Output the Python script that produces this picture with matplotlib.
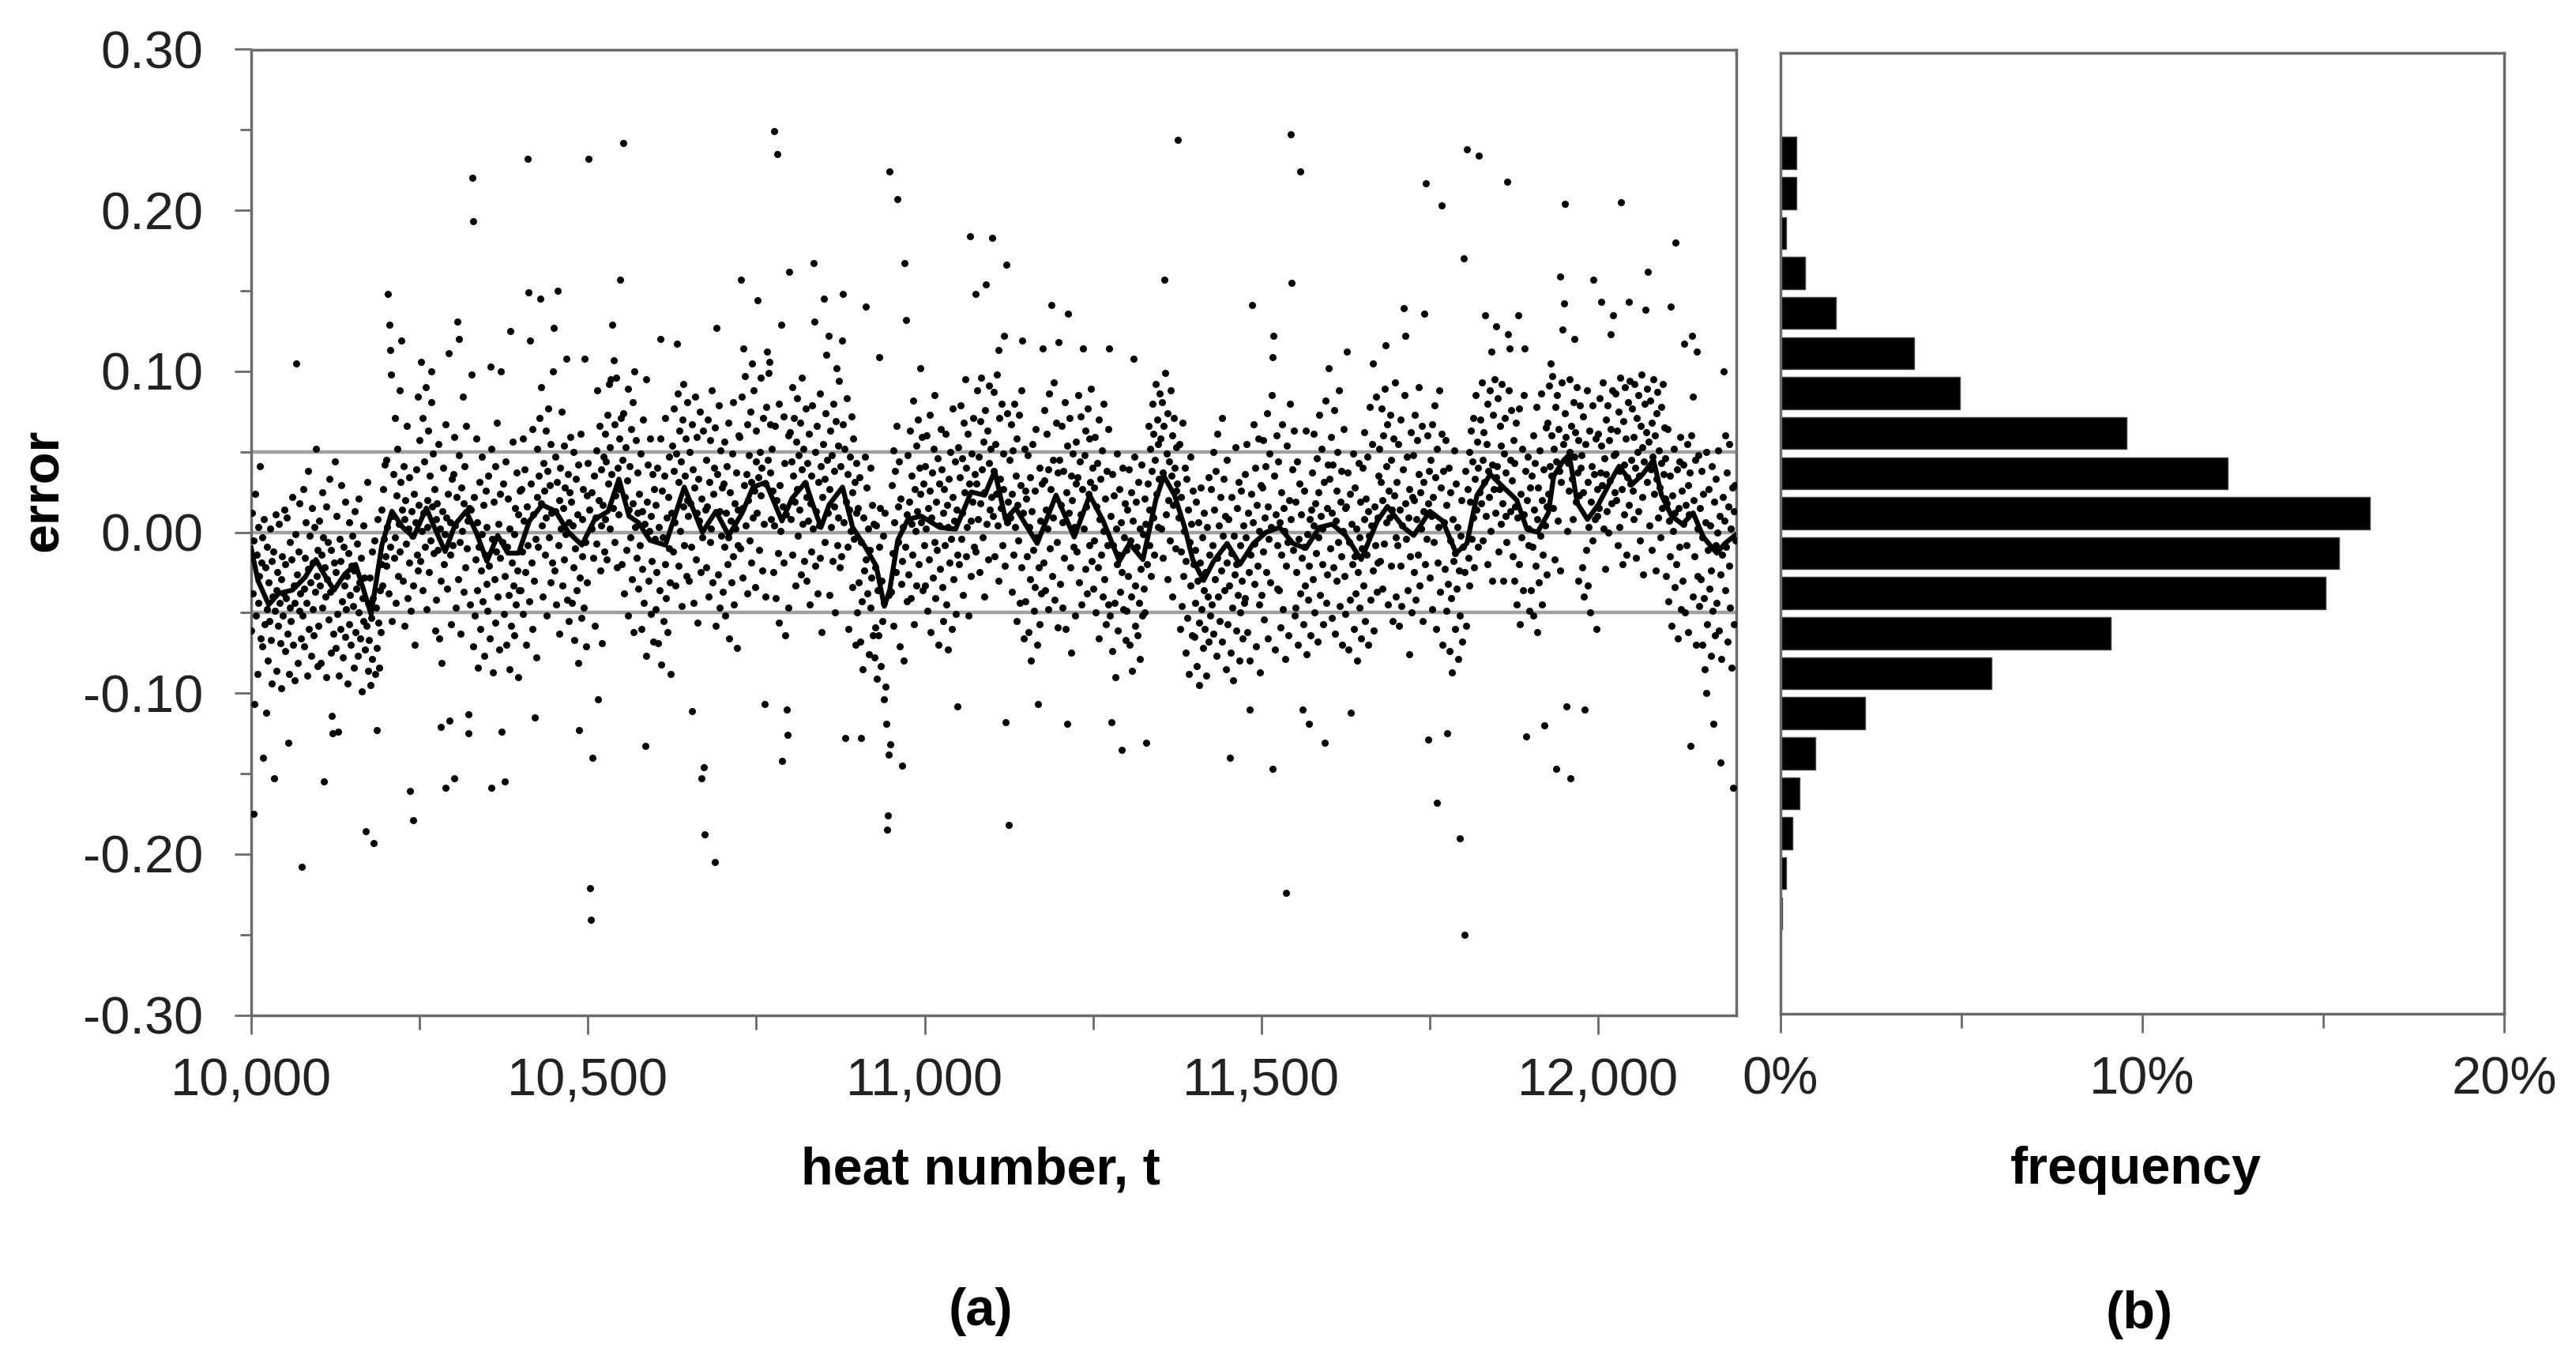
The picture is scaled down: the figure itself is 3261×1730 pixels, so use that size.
import numpy as np
import matplotlib.pyplot as plt
from matplotlib.ticker import MultipleLocator, FuncFormatter, FixedLocator

plt.rcParams['font.family'] = ['Liberation Sans', 'DejaVu Sans']
plt.rcParams['axes.unicode_minus'] = False

# error per heat, in thousandths, read block by block from the scatter (heat 10000 onwards)
err_10000 = [
    -61, 12, -38, -5, -79, -30, 24, -52, -14, -88, 3, -44, -27, 41, -66, -19, -3, -71, -35, 8, -57, -22, 30, -48, -9,
    -80, -31, -55, 2, -67, -18, -94, -40, -12, -73, -49, 11, -36, -86, -25, -58, 5, -44, -69, -29, -97, -15, -52, -38, 14,
    -20, -74, -41, 9, -63, -30, -88, -6, -47, -55, -17, 22, -70, -33, -92, -44, -1, -59, -26, -81, -12, -49, 18, -38, -66,
    -8, -52, 27, -35, -71, -16, 6, -44, -89, -23, 38, -60, -2, -31, -77, 15, -48, -19, -64, 3, -37, 52, -27, -83, -11,
    -58, 7, -33, -81, -14, 25, -47, -3, -69, -22, -40, 16, -90, -29, -6, -54, 33, -37, -75, -11, -45, 2, -63, -19, 44,
    -72, -25, 10, -51, -36, -89, -4, -60, -18, 29, -43, -78, -9, -33, -65, 19, -48, -27, -94, -13, -57, 6, -39, -70, -21,
    -2, -46, -84, -24, 13, -62, -35, -7, -77, -50, 21, -31, -66, -16, -99, -41, 4, -55, -28, -73, -10, -58, 31, -44, -86,
    -67, -28, -95, -53, -12, -79, -41, -60, -5, -88, -47, -31, -72, 8, -56, -84, -36, -62, -20, 14, -33, 27, -4, 42, -15,
    45, -21, 3, 62, -38, 17, -9, 79, 28, -55, 10, 36, -16, 71, -3, -44, 23, 52, -27, 5, 88, -12, 31, -63, 14,
    -30, 41, 8, -58, 20, -7, 66, -41, 2, 34, -19, 77, -49, 13, -2, 50, -33, 24, -70, 6, 39, -14, 84, -24, 17,
    57, -18, 29, 1, 71, -36, 12, 44, -9, 90, -48, 20, 3, 63, -25, 35, -5, 81, -40, 16, 49, -13, 27, -61, 8,
    -42, 18, -11, 55, -66, 2, 29, -30, -81, 13, 40, -20, -1, 67, -52, 9, -35, 24, -74, 47, -14, 6, -57, 33, -8,
    36, -15, 59, 4, -47, 22, 75, -29, 11, 48, -6, -63, 28, 1, 84, -37, 18, 41, -22, 66, -10, 7, -54, 31, 15,
    -45, 14, -28, 39, -71, -3, 22, -52, -17, 58, -36, 6, -84, -9, 31, -60, -24, 47, -1, -43, 17, -77, -14, 26, -32,
    3, -49, 35, -21, -66, 10, -38, 52, -4, -87, 19, -29, 41, -56, -12, 68, -40, 5, -73, 24, -16, 45, -61, -6, 30,
    -51, 8, -27, 44, -70, -9, 21, -39, -85, 2, 33, -58, -19, 56, -33, -1, -64, 15, -45, 37, -24, -90, 11, -36, 26,
    -36, 27, -12, 58, -51, 7, 39, -25, -70, 16, 46, -8, 81, -43, 3, 30, -19, 64, -60, 11, -30, 49, -4, -78, 22,
    52, -9, 35, 71, -27, 18, 90, 4, -40, 43, 26, -14, 63, 9, -52, 38, 77, -3, 29, -31, 55, 12, -19, 84, 21,
    -24, 47, 13, -45, 31, 66, -8, 20, -63, 40, 2, 75, -33, 15, 54, -17, 28, -1, 87, -42, 36, 6, -55, 25, 59,
    19, -44, 4, -22, 50, -67, -10, 33, -36, 11, -81, 42, -2, -28, 61, -53, 8, -15, 27, -47, 70, -6, -71, 23, -31,
]
err_10500 = [
    43, -29, 14, 60, -47, 25, 2, 78, -16, 35, -58, 9, 51, -7, 88, -34, 20, 66, -24, 4, 39, -69, 17, 47, -12,
    61, 8, 44, -17, 73, 30, 92, 2, 53, -30, 36, 79, 15, 48, -6, 67, 23, 96, -22, 40, 11, 58, 27, -41, 71,
    -20, 45, 6, 74, -38, 22, 53, -11, 32, 89, -52, 14, 41, -3, 64, -29, 18, 81, -62, 28, 3, 57, -16, 37, 12,
    -35, 24, -8, 49, -60, 13, -23, 70, -44, 5, 33, -15, -77, 19, 42, -30, 1, 58, -51, 10, -18, 36, -68, 27, -4,
    -48, 17, -25, 40, -69, 3, -36, 58, -14, -82, 26, -3, -55, 35, -20, 71, -41, 9, -62, 22, -10, 47, -31, -88, 12,
    54, -12, 38, 77, 6, -33, 49, 24, 86, -21, 31, 63, 1, 44, -46, 70, 16, 92, -8, 35, 58, -27, 20, 81, 10,
    -30, 50, 18, -9, 67, 3, 39, -44, 28, 84, -17, 12, 59, -56, 33, 7, 75, -25, 46, 21, -3, 63, -38, 29, 14,
    45, -22, 16, 70, -40, 31, -6, 57, 2, 88, -31, 24, 40, -14, 65, -58, 9, 36, -26, 79, 13, -47, 51, -2, 28,
    -37, 30, -9, 56, -52, 12, 41, -20, 68, -3, -66, 25, 7, -31, 49, -15, 81, -45, 18, 2, 37, -72, 14, -8, 60,
    59, -10, 42, 84, 15, -28, 51, 29, 97, 4, 36, -38, 67, 20, 48, -5, 75, 31, -19, 56, 9, 88, 26, -34, 44,
    63, 12, 85, 34, -11, 50, 23, 96, 40, -24, 71, 5, 58, 30, -40, 78, 18, 45, 99, -3, 37, 67, 8, 52, 26,
    -25, 46, 4, 66, -41, 20, 38, -13, 80, -56, 29, 1, 55, -30, 16, 72, -19, 43, -64, 11, 34, -8, 60, -47, 24,
    62, 8, 44, 90, -14, 35, 71, 19, -33, 56, 27, 83, -2, 48, 14, 68, -26, 39, 96, 5, 52, -18, 30, 77, 22,
    -30, 43, 7, 61, -45, 18, 35, -12, 79, 2, -57, 27, 50, -21, 13, 66, -38, 31, 4, 86, -16, 41, -62, 22, 55,
    58, -6, 33, 74, -27, 45, 12, 89, -39, 27, 63, 3, 48, -18, 80, 16, 38, -50, 69, 25, -8, 54, 9, 94, -22,
    41, -15, 28, 67, -42, 6, 52, -28, 19, 83, -9, 36, -60, 14, 47, 1, 72, -34, 25, 58, -4, 31, -70, 43, 12,
    -50, 15, -31, 34, -68, -6, 22, -43, -85, 9, -24, 47, -59, -17, 28, -38, 2, -76, -11, 40, -47, -28, 17, -64, 5,
    -78, -22, -59, 4, -91, -36, -64, -9, -48, 15, -83, -30, -55, -2, -71, -44, 12, -96, -26, -60, -15, -39, 8, -67, -34,
    -37, 29, -13, 51, -58, 6, 38, -25, 66, -47, 16, -6, 44, -71, 21, -32, 59, -18, 3, -80, 33, -9, 72, -43, 11,
    48, -26, 19, 63, -41, 5, 35, -14, 82, -57, 27, 1, 54, -33, 13, 70, -20, 40, -68, 24, 6, 59, -36, 30, -8,
]
err_11000 = [
    -33, 41, 2, 60, -49, 15, -17, 73, 26, -62, 9, 37, -28, 52, -6, 85, -41, 19, -11, 46, -70, 30, 4, -23, 64,
    39, -34, 12, -55, 27, -8, 61, -45, 17, 3, -73, 33, -19, 50, -4, -60, 22, 77, -29, 7, 44, -51, 14, -14, 57,
    53, -20, 34, 79, -4, 46, 12, -39, 68, 25, 95, -15, 40, 3, 61, -52, 30, 85, 7, -27, 49, 19, 71, -9, 36,
    -12, 60, 30, 88, 8, 47, -25, 69, 18, 96, 39, -3, 56, 25, -40, 76, 34, 5, 63, -17, 43, 91, 14, 52, 22,
    63, 10, 87, 38, -15, 55, 24, 98, 4, 46, -30, 71, 33, 15, 80, -8, 49, 27, 92, -21, 60, 36, 6, 74, 19,
    -28, 45, 9, 67, -37, 24, 51, -14, 80, 3, 35, -55, 58, 17, -5, 73, -44, 29, 88, -22, 41, 12, -66, 52, 26,
    -43, 21, -15, 48, -62, 3, 34, -29, -80, 13, 55, -11, -49, 26, -34, 64, -3, -70, 17, -22, 40, -57, 7, -38, 30,
    50, -19, 32, 76, -36, 14, 61, 2, -48, 39, 86, -10, 27, 57, -27, 45, 9, 93, -42, 21, 68, -6, 37, -59, 18,
    45, -32, 17, 66, -47, 6, 38, -16, 81, -60, 25, -2, 54, -36, 12, 71, -22, 35, -75, 20, 49, -9, 3, -52, 30,
    56, -12, 34, 85, -31, 44, 11, 72, -45, 27, 95, 2, 48, -23, 63, 16, -38, 77, 24, -8, 58, 31, 89, -18, 40,
    -35, 28, -5, 59, -50, 16, 43, -22, 70, -66, 8, 33, -14, 51, -40, 1, 80, -29, 21, -57, 38, -8, 64, -45, 12,
    -52, 10, -30, 36, -74, -8, 23, -44, -90, 2, -20, 49, -61, -14, 27, -37, 6, -82, -25, 40, -48, -3, 18, -67, -11,
    -49, 14, -27, 39, -70, -5, 25, -40, -86, 7, -18, 47, -58, -33, 19, -9, -64, 31, -44, 2, -79, -23, 42, -52, -1,
    -35, 21, -50, 5, 43, -20, 30, 66, -8, 14, 52, -27, 38, 80, 9, 61, -14, 45, 92, 24, 70, 3, 55, 33, 86,
    58, 2, 81, 37, -16, 66, 28, 99, 11, 49, -29, 74, 20, 44, -5, 88, 35, 60, -40, 17, 71, 40, -10, 53, 26,
    30, -38, 9, 55, -60, -12, 22, -46, 68, -27, 1, 40, -75, -18, 33, -53, 14, -88, -6, 47, -33, 5, -64, 26, -20,
    -65, -11, -44, 19, -83, -30, 6, -56, -95, -19, 28, -48, -3, -72, -36, 12, -60, -25, -89, 3, -40, 34, -68, -14, -52,
    27, -45, -8, 50, -63, 14, -29, 38, -77, -16, 61, -40, 4, -55, 22, -24, 71, -68, -2, 33, -36, 10, -85, 45, -19,
    -57, 8, -33, 40, -75, -13, 22, -47, -92, -2, -26, 53, -61, -20, 15, -39, 31, -80, -8, -50, 26, -30, -66, 4, -44,
    36, -41, -3, 55, -62, 12, -25, 44, -80, -14, 24, -50, 6, 67, -32, -7, 40, -71, 17, -21, 58, -45, 1, -87, 29,
]
err_11500 = [
    -39, 28, -12, 57, -54, 9, 41, -25, 74, -66, 16, -4, 49, -31, 3, 85, -45, 22, -18, 35, -73, 11, 60, -8, -35,
    44, -36, 6, -59, 25, -14, 67, -48, 15, 1, -79, 34, -21, 54, -6, -64, 20, 80, -28, 8, -43, 39, -11, 63, -52,
    -47, 19, -25, 44, -70, -4, 30, -38, -88, 11, -16, 52, -57, -9, 26, -33, 63, -76, -1, -42, 37, -21, 8, -64, 14,
    37, -29, 4, 61, -50, 18, -13, 46, -68, 25, -3, 73, -39, 10, 52, -20, 2, -57, 31, -9, 82, -44, 15, -26, 42,
    -36, 33, -10, 59, -53, 12, 42, -22, 76, -63, 7, 26, -30, 50, -6, 88, -46, 19, -15, 38, -70, 1, 64, -27, 15,
    -51, 16, -30, 37, -73, -6, 24, -42, -90, 5, -20, 49, -60, -15, 28, -38, 2, -80, -25, 43, -47, -3, 19, -66, -10,
    40, -33, 8, 62, -55, 21, -14, 47, -70, 13, -2, 78, -42, 4, 55, -24, 30, -61, 16, -8, 84, -37, 9, -19, 35,
    52, -18, 31, 77, -35, 20, 60, -7, 89, -28, 41, 6, 67, -45, 26, 9, 73, -21, 45, 14, -55, 58, 23, 93, -3,
    -40, 31, -8, 55, -58, 14, -21, 70, -46, 4, 39, -30, 85, -65, 18, -4, 47, -36, 9, -76, 27, -15, 62, -50, 22,
    48, -25, 20, 73, -42, 8, 57, -14, 36, 90, -33, 25, 2, 66, -55, 31, 13, 81, -20, 43, -4, 60, -47, 18, 38,
    -28, 45, 10, 67, -48, 22, -6, 79, 34, -60, 15, 52, -19, 3, 88, -37, 28, -10, 61, -70, 38, 6, -23, 57, 17,
    -49, 14, -32, 40, -74, -5, 25, -41, -87, 8, -18, 51, -60, -13, 30, -35, 3, -79, -24, 44, -52, -2, 20, -68, -9,
    -40, 12, -25, 38, -58, 2, 27, -16, 50, -33, 19, 63, -4, 44, 9, 71, -22, 33, 85, 14, 56, -9, 40, 78, 25,
    70, 18, 93, 45, -5, 62, 31, 99, 10, 55, -20, 80, 38, 22, 88, 1, 60, 42, -30, 73, 27, 95, 12, 50, 34,
    41, 83, -12, 27, 66, 5, 54, 92, 18, -30, 49, 71, 10, 37, -6, 60, 24, 88, -22, 45, 13, 76, 32, -15, 57,
    43, -30, 16, 68, -45, 9, 34, -20, 77, -57, 24, -3, 52, -36, 11, 85, -14, 38, -67, 20, 47, -8, 2, -49, 28,
    -36, 35, -9, 60, -52, 14, 43, -21, 78, -62, 8, 28, -31, 51, -2, 86, -45, 20, -14, 39, -70, 4, 65, -26, 16,
    68, 24, 91, 41, -6, 60, 35, 97, 15, 52, -17, 78, 44, 20, 85, 7, 64, 38, -24, 70, 31, 93, 10, 55, 29,
    74, 12, 59, 88, 1, 43, 26, 95, 50, -21, 66, 33, 8, 81, 47, -9, 62, 19, 90, 37, -30, 57, 23, 79, 40,
    48, -22, 25, 72, -40, 14, 55, -11, 88, -33, 31, 3, 63, -50, 19, 41, -5, 79, -27, 36, 8, 58, -60, 27, 10,
]
err_12000 = [
    61, 15, 83, 37, -12, 54, 29, 93, 2, 46, -23, 70, 36, 13, 79, 0, 57, 32, -31, 64, 18, 88, 6, 48, 25,
    49, 86, 20, 63, -8, 75, 38, 3, 96, 55, 27, -20, 69, 42, 11, 90, 58, -14, 34, 81, 17, 60, 94, 30, 45,
    77, 26, 8, 59, 92, 40, -16, 71, 50, 13, 85, 35, -5, 66, 98, 22, 53, -26, 44, 80, 6, 62, 31, 89, 19,
    56, 4, 82, 39, 68, -11, 47, 95, 24, 60, -24, 74, 33, 87, 9, 51, 28, -3, 78, 43, 15, 92, 36, 65, 21,
    46, -27, 18, 64, -43, 7, 35, -15, 80, -58, 23, 1, 52, -34, 12, 71, -20, 39, -66, 15, 44, -9, 59, -48, 26,
    -30, 42, 5, 68, -50, 17, -8, 55, 29, -62, 11, 37, -22, 60, -3, 84, -40, 20, -15, 45, -70, 32, 2, -27, 48,
    -46, 15, -29, 38, -70, -3, 24, -41, -85, 6, -19, 50, -57, -11, 27, -35, 4, -77, -24, 41, -49, -1, 19, -64, -8,
    33, -44, 0, 51, -61, 10, -26, 42, -79, -14, 22, -52, 7, 60, -36, -9, 37, -68, 16, -21, 55, -47, 2, -84, 28,
    -31, 13, -57, 29, -5,
]

# isolated large errors (heat, thousandths)
hi_heat = [10067, 10203, 10205, 10207, 10208, 10223, 10252, 10268, 10293, 10306, 10308, 10327, 10328, 10330,
           10355, 10371, 10385, 10410, 10412, 10414, 10429, 10448, 10449, 10455, 10468, 10495, 10501, 10534,
           10536, 10538, 10548, 10552, 10569, 10586, 10608, 10632, 10691, 10727, 10731, 10744, 10752, 10766,
           10769, 10776, 10781, 10787, 10799, 10835, 10836, 10850, 10854, 10857, 10869, 10877, 10879, 10912,
           10933, 10948, 10959, 10970, 10972, 10993, 11067, 11076, 11091, 11100, 11109, 11118, 11121, 11145,
           11175, 11188, 11199, 11213, 11235, 11274, 11310, 11356, 11376, 11486, 11516, 11518, 11543, 11545,
           11558, 11600, 11627, 11666, 11684, 11711, 11713, 11742, 11744, 11767, 11800, 11805, 11823, 11832,
           11841, 11848, 11865, 11866, 11868, 11881, 11891, 11929, 11944, 11947, 11949, 11951, 11965, 11993,
           12004, 12018, 12022, 12034, 12046, 12070, 12074, 12108, 12115, 12128, 12139, 12146, 12186]
hi_err = [105, 148, 129, 113, 98, 119, 106, 100, 111, 131, 120, 98, 220, 193,
          103, 100, 125, 232, 149, 119, 145, 100, 127, 150, 108, 108, 232, 95,
          129, 107, 157, 242, 100, 95, 120, 117, 127, 157, 114, 105, 144, 112,
          106, 249, 235, 129, 162, 167, 131, 145, 110, 122, 102, 119, 148, 140,
          109, 224, 207, 167, 132, 102, 184, 148, 154, 183, 113, 122, 166, 119,
          114, 141, 118, 136, 114, 114, 108, 157, 244, 141, 109, 122, 247, 155,
          224, 102, 112, 105, 116, 139, 122, 136, 217, 203, 170, 238, 234, 135,
          112, 128, 218, 123, 114, 135, 114, 105, 159, 126, 142, 204, 120, 157,
          143, 123, 135, 205, 143, 138, 162, 140, 180, 117, 122, 112, 100]
lo_heat = [10004, 10005, 10018, 10022, 10034, 10055, 10075, 10108, 10120, 10121, 10129, 10170, 10182, 10186,
           10236, 10240, 10281, 10289, 10294, 10301, 10322, 10323, 10356, 10372, 10376, 10421, 10487, 10503,
           10504, 10507, 10515, 10585, 10655, 10668, 10672, 10673, 10688, 10762, 10788, 10795, 10796, 10882,
           10906, 10939, 10943, 10944, 10945, 10947, 10949, 10966, 11049, 11120, 11125, 11168, 11211, 11277,
           11292, 11329, 11453, 11482, 11517, 11536, 11561, 11570, 11594, 11633, 11747, 11760, 11776, 11794,
           11801, 11893, 11920, 11938, 11953, 11959, 11980, 12137, 12160, 12171, 12182, 12200]
lo_err = [-175, -107, -140, -112, -153, -131, -208, -155, -114, -125, -124, -186, -193, -123,
          -161, -179, -121, -159, -117, -153, -113, -125, -159, -124, -155, -115, -123, -221,
          -241, -140, -104, -133, -111, -153, -146, -188, -205, -107, -142, -110, -126, -128,
          -128, -104, -119, -185, -176, -138, -132, -145, -108, -118, -182, -107, -119, -118,
          -135, -131, -140, -110, -147, -224, -110, -119, -131, -112, -129, -168, -125, -190,
          -250, -127, -120, -147, -108, -153, -110, -133, -100, -119, -143, -159]

# moving average line
ma_heat = [10000, 10010, 10026, 10041, 10061, 10080, 10096, 10108, 10123, 10139, 10155, 10170, 10178, 10194,
           10209, 10225, 10241, 10260, 10272, 10288, 10303, 10319, 10334, 10350, 10366, 10381, 10397, 10413,
           10432, 10452, 10471, 10491, 10510, 10530, 10546, 10561, 10575, 10592, 10615, 10643, 10670, 10690,
           10709, 10729, 10745, 10764, 10788, 10803, 10823, 10834, 10846, 10858, 10878, 10893, 10913, 10928,
           10940, 10948, 10960, 10975, 10995, 11022, 11046, 11069, 11089, 11104, 11120, 11135, 11167, 11195,
           11222, 11245, 11265, 11289, 11304, 11324, 11343, 11355, 11371, 11386, 11398, 11414, 11429, 11449,
           11468, 11488, 11507, 11527, 11547, 11566, 11586, 11605, 11625, 11648, 11672, 11687, 11711, 11726,
           11750, 11769, 11789, 11805, 11820, 11840, 11859, 11879, 11894, 11910, 11926, 11934, 11949, 11957,
           11969, 11984, 12000, 12020, 12031, 12051, 12066, 12082, 12094, 12109, 12125, 12141, 12156, 12176,
           12188, 12203]
ma_err = [-0.010, -0.030, -0.045, -0.038, -0.036, -0.028, -0.017, -0.026, -0.036, -0.026, -0.020, -0.040, -0.051, -0.008,
          0.013, 0.003, -0.003, 0.015, 0.003, -0.012, 0.005, 0.013, 0.000, -0.018, -0.002, -0.013, -0.013, 0.007,
          0.017, 0.013, 0.000, -0.008, 0.008, 0.013, 0.033, 0.010, 0.006, -0.005, -0.008, 0.028, 0.000, 0.013,
          -0.002, 0.012, 0.028, 0.031, 0.007, 0.021, 0.031, 0.017, 0.003, 0.017, 0.028, 0.003, -0.010, -0.021,
          -0.046, -0.036, -0.005, 0.008, 0.010, 0.003, 0.002, 0.025, 0.023, 0.038, 0.008, 0.015, -0.007, 0.023,
          -0.003, 0.023, 0.007, -0.018, -0.007, -0.017, 0.020, 0.035, 0.023, 0.003, -0.017, -0.030, -0.018, -0.007,
          -0.020, -0.007, 0.000, 0.003, -0.007, -0.010, 0.003, 0.005, -0.002, -0.017, 0.007, 0.016, 0.003, -0.002,
          0.013, 0.007, -0.013, -0.007, 0.023, 0.036, 0.028, 0.020, 0.002, 0.000, 0.012, 0.035, 0.045, 0.048,
          0.018, 0.008, 0.017, 0.033, 0.041, 0.030, 0.036, 0.045, 0.023, 0.010, 0.005, 0.012, -0.003, -0.013,
          -0.007, -0.002]

ref_levels = [0.05, 0.0, -0.05]

# histogram (b): bin centres of the error and frequency in percent
bin_centers = [0.2375, 0.2125, 0.1875, 0.1625, 0.1375, 0.1125, 0.0875, 0.0625, 0.0375, 0.0125,
               -0.0125, -0.0375, -0.0625, -0.0875, -0.1125, -0.1375, -0.1625, -0.1875, -0.2125, -0.2375]
freq_pct = [0.44, 0.44, 0.16, 0.68, 1.53, 3.69, 4.96, 9.57, 12.35, 16.28,
            15.44, 15.07, 9.13, 5.82, 2.33, 0.97, 0.52, 0.33, 0.16, 0.05]

x_ticks_b = [0, 10, 20]
x_labels_b = ['0%', '10%', '20%']

err = np.array(err_10000 + err_10500 + err_11000 + err_11500 + err_12000, dtype=float)
heats = 10000 + np.arange(len(err))
err[np.array(hi_heat) - 10000] = hi_err
err[np.array(lo_heat) - 10000] = lo_err
err = err / 1000.0

W, H = 3261, 1730
fig = plt.figure(figsize=(W / 100, H / 100), dpi=100)
ax1 = fig.add_axes([318 / W, 1 - 1284.6 / H, (2198 - 318) / W, (1284.6 - 62.5) / H])
ax2 = fig.add_axes([2254 / W, 1 - 1282.5 / H, (3170 - 2254) / W, (1282.5 - 67) / H])

spine_col = '#6a6a6a'
fs = 48

for y in ref_levels:
    ax1.axhline(y, color='#a0a0a0', lw=3.2, zorder=1)
ax1.plot(heats, err, 'o', ms=6.5, color='black', mew=0, zorder=3)
ax1.plot(ma_heat, ma_err, color='black', lw=4.5, zorder=4)

ax1.set_xlim(10000, 12205)
ax1.set_ylim(-0.3, 0.3)
ax1.xaxis.set_major_locator(MultipleLocator(500))
ax1.xaxis.set_minor_locator(MultipleLocator(250))
ax1.yaxis.set_major_locator(MultipleLocator(0.1))
ax1.yaxis.set_minor_locator(MultipleLocator(0.05))
ax1.xaxis.set_major_formatter(FuncFormatter(lambda v, p: f'{int(round(v)):,}'))
ax1.yaxis.set_major_formatter(FuncFormatter(lambda v, p: f'{0.0 if abs(v) < 1e-9 else v:.2f}'))
ax1.tick_params(axis='x', which='major', length=17, width=2, color=spine_col, labelsize=fs, pad=22,
                labelcolor='#222222')
ax1.tick_params(axis='x', which='minor', length=13, width=2, color=spine_col)
ax1.tick_params(axis='y', which='major', length=15, width=2, color=spine_col, labelsize=fs, pad=29,
                labelcolor='#222222')
ax1.tick_params(axis='y', which='minor', length=10, width=2, color=spine_col)

ax2.barh(bin_centers, freq_pct, height=0.02, color='black', edgecolor='#404040', lw=1)
ax2.set_xlim(0, 20)
ax2.set_ylim(-0.3, 0.3)
ax2.set_yticks([])
ax2.xaxis.set_major_locator(FixedLocator(x_ticks_b))
ax2.set_xticklabels(x_labels_b)
ax2.xaxis.set_minor_locator(MultipleLocator(5))
ax2.tick_params(axis='x', which='major', length=17, width=2, color=spine_col, labelsize=fs, pad=22,
                labelcolor='#222222')
ax2.tick_params(axis='x', which='minor', length=13, width=2, color=spine_col)

for ax in (ax1, ax2):
    for s in ax.spines.values():
        s.set_color(spine_col)
        s.set_linewidth(2.5)

fig.text(0.3807, 0.1439, 'heat number, t', ha='center', va='center', fontsize=fs, fontweight='bold')
fig.text(0.8291, 0.1439, 'frequency', ha='center', va='center', fontsize=fs, fontweight='bold')
fig.text(0.0172, 0.6416, 'error', ha='center', va='center', rotation=90, fontsize=fs, fontweight='bold')
fig.text(0.3807, 0.0405, '(a)', ha='center', va='center', fontsize=fs, fontweight='bold')
fig.text(0.8304, 0.0382, '(b)', ha='center', va='center', fontsize=fs, fontweight='bold')

fig.savefig('out.png', dpi=100, facecolor='white')
